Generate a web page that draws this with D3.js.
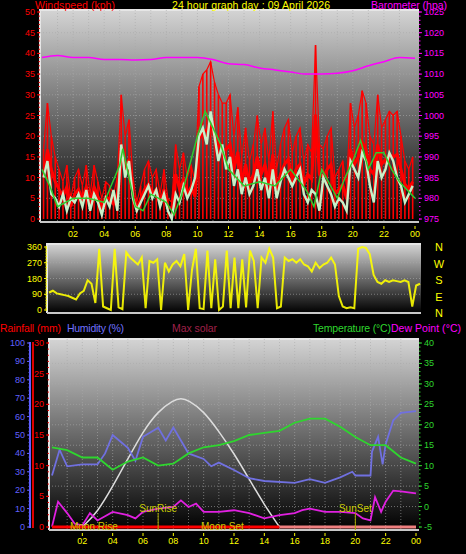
<!DOCTYPE html>
<html><head><meta charset="utf-8">
<script src="https://cdn.jsdelivr.net/npm/d3@7"></script>
<style>body{margin:0;background:#000}svg{display:block;font-family:"Liberation Sans",Arial,sans-serif}</style>
</head><body><svg id="c" width="466" height="554"></svg>
<script>
const hourTicks=["02","04","06","08","10","12","14","16","18","20","22","00"];
const gust=[17,28,20,15,12,9,13,5,10,12,8,13,6,13,9,5,9,8,6,10,30,20,24,10,4,8,12,14,10,12,6,12,5,4,18,12,16,10,13,9,32,35,36,38,33,30,28,28,30,20,27,15,22,14,18,25,18,22,14,26,12,18,22,24,16,20,22,14,18,16,42,18,17,20,22,10,12,14,8,28,22,25,31,28,20,18,30,22,24,26,25,26,20,14,12,15];
const speed=[10,14,6,5,3,6,2,5,4,6,3,7,2,6,4,1,5,3,7,2,18,10,14,5,2,4,6,8,5,7,3,6,2,0,6,4,8,5,7,10,20,22,18,26,20,14,18,12,15,8,12,6,10,6,8,12,7,10,5,12,5,9,12,10,8,10,12,6,4,7,6,2,10,8,6,3,5,4,2,14,12,10,16,14,8,4,14,10,12,16,14,10,8,4,6,8];
const avgHours=[0,0.5,1,2,3,4,5,5.2,6,6.5,7,8,8.5,9,10,10.5,11,11.5,12,13,14,15,16,17,17.5,18,19,19.5,20,20.5,21,21.5,22,22.5,23,24];
const avgWind=[12,8,3,5,5,4,13,17,3,2,6,4,1,6,20,26,22,18,12,8,9,8,12,7,3,12,5,10,14,19,12,16,16,12,9,5];
const baro=[1014,1014.5,1014,1014,1013.5,1013.5,1013.4,1013.5,1014,1014,1014,1013.5,1012.5,1012.3,1011.5,1011,1010.5,1010,1010,1010.2,1010.8,1012,1013,1014,1013.8];
const windDir=[100,110,95,90,85,80,70,60,95,110,170,150,40,350,20,10,0,350,15,5,330,300,280,260,300,10,280,270,290,0,270,220,260,280,250,320,0,230,350,10,5,340,10,290,0,20,340,10,300,10,290,15,340,280,10,300,270,350,300,10,20,300,280,290,270,290,260,250,220,270,240,260,270,300,260,80,20,10,15,10,350,360,355,320,200,160,150,170,160,170,165,160,170,160,20,140,150];
const temp=[14.5,13.8,12,12,9,11,12,10,10.5,13,14.5,15,16,17.5,18,18.5,20.5,21.5,21.5,19.5,17,15,15,12,10.5];
const dewHours=[0,0.4,1,1.5,2,2.5,3,4,5,5.5,6,7,8,8.5,9,9.5,10,11,12,13,14,15,16,16.5,17,18,19,20,20.5,21,21.3,21.7,22,22.5,23,24];
const dew=[-4.9,1.2,-1.6,-4.2,-4.6,-1.6,-3.4,-1.3,-2.1,-2.9,-1.3,-0.5,-0.1,1.5,-0.1,0.7,-1.3,-1.3,-0.9,-1.6,-2.9,-2.1,-1.6,-0.9,-0.5,-1.3,-1.3,-1.6,-2.9,-3.4,2.3,-1.3,1.2,3.9,3.7,3.2];
const humHours=[0,0.5,1,2,3,3.5,4,5,5.5,6,7,7.5,8,9,10,10.5,11,12,13,14,16,17,18,19,19.8,20,21,21.1,21.5,21.8,22,22.5,23,24];
const hum=[28,42,33,34,34,40,50,43,36,49,54,47,54,40,37,33,35,31,26.5,25,24,26,24,27,30,28,28,41,49,34,45,58,62,63];
const solarHours=[2,3,4,5,6,7,8,8.5,9,10,11,12,13,14,15];
const solar=[0,8,22,37,52,63,69,70,69,63,52,40,26,12,0];
const rainHours=[0,15,24];
const rain=[0,0,0];

const svg=d3.select("#c");
const defs=svg.append("defs");
const gr=defs.append("linearGradient").attr("id","bg").attr("x1",0).attr("x2",0).attr("y1",0).attr("y2",1);
gr.append("stop").attr("offset",0).attr("stop-color","#d4d4d4");
gr.append("stop").attr("offset",1).attr("stop-color","#000");

function panel(x0,x1,y0,y1){
  svg.append("rect").attr("x",x0).attr("y",y0).attr("width",x1-x0).attr("height",y1-y0).attr("fill","url(#bg)");
  svg.append("path").attr("d",`M${x0},${y1}V${y0}H${x1}`).attr("stroke","#e6e6e6").attr("stroke-width",2).attr("fill","none");
  svg.append("line").attr("x1",x0).attr("x2",x1).attr("y1",y1).attr("y2",y1).attr("stroke","#c8c8c8").attr("stroke-width",2);
}
function grid(xs,ys,x0,x1,y0,y1){
  const g=svg.append("g").attr("stroke","#aaa").attr("stroke-dasharray","1,2").attr("stroke-opacity",0.6);
  xs.forEach(x=>g.append("line").attr("x1",x).attr("x2",x).attr("y1",y0).attr("y2",y1));
  ys.forEach(y=>g.append("line").attr("x1",x0).attr("x2",x1).attr("y1",y).attr("y2",y));
}
function txt(x,y,s,c,size,anchor){return svg.append("text").attr("x",x).attr("y",y).attr("fill",c).attr("font-size",size||11).attr("text-anchor",anchor||"start").text(s);}
function yAxis(scale,ticks,x,color,side,minor){
  const g=svg.append("g").attr("font-size",9);
  ticks.forEach(v=>{const y=scale(v);
    g.append("text").attr("x",side<0?x-5:x+5).attr("y",y+3).attr("fill",color).attr("text-anchor",side<0?"end":"start").text(v);
    g.append("line").attr("x1",x).attr("x2",x+side*3).attr("y1",y).attr("y2",y).attr("stroke",color);});
  if(minor){const d=scale.domain();for(let i=0;i<=minor;i++){const v=d[0]+(d[1]-d[0])*i/minor;
    g.append("line").attr("x1",x).attr("x2",x+side*1.5).attr("y1",scale(v)).attr("y2",scale(v)).attr("stroke",color);}}
}
function xLabels(x,y){hourTicks.forEach((t,i)=>{const h=(i+1)*2;txt(x(h),y,t,"#ff0",9,"middle");
  svg.append("line").attr("x1",x(h)).attr("x2",x(h)).attr("y1",y-11).attr("y2",y-8).attr("stroke","#ff0");});}

const xT=d3.scaleLinear([0,24],[42,415]);
const yW=d3.scaleLinear([0,50],[219,12]);
const yB=d3.scaleLinear([975,1025],[219,12]);
panel(40,419,10,222);
grid(d3.range(1,24).map(xT),d3.range(5,50,5).map(yW),40,419,10,222);
const tq=i=>xT(i*0.25+0.1);
const gg=svg.append("g");
gust.forEach((v,i)=>{gg.append("line").attr("x1",tq(i)).attr("x2",tq(i)).attr("y1",yW(v)).attr("y2",yW(0)).attr("stroke","#f00").attr("stroke-width",1.6);});
svg.append("path").datum(gust).attr("d",d3.line().x((d,i)=>tq(i)).y(d=>yW(d*0.6))).attr("fill","none").attr("stroke","#f00").attr("stroke-width",3);
svg.append("path").datum(gust).attr("d",d3.line().x((d,i)=>tq(i)).y(d=>yW(d))).attr("fill","none").attr("stroke","#f00").attr("stroke-width",1.2);
svg.append("path").datum(speed).attr("d",d3.line().x((d,i)=>tq(i)).y(d=>yW(d))).attr("fill","none").attr("stroke","#c8f0c8").attr("stroke-width",2.4);
svg.append("path").datum(avgWind).attr("d",d3.line().x((d,i)=>xT(avgHours[i])).y(d=>yW(d))).attr("fill","none").attr("stroke","#2ecc2e").attr("stroke-width",1.5);
svg.append("path").datum(baro).attr("d",d3.line().x((d,i)=>xT(i)).y(d=>yB(d)).curve(d3.curveMonotoneX)).attr("fill","none").attr("stroke","#f0f").attr("stroke-width",1.5);
yAxis(yW,d3.range(0,51,5),40,"#f00",-1,50);
yAxis(yB,d3.range(975,1026,5),419,"#f0f",1,50);
xLabels(xT,237);
txt(35,9,"Windspeed (kph)","#f00",10.5).attr("textLength",80);
txt(172,9,"24 hour graph day : 09 April 2026","#ff0",10.5).attr("textLength",158);
txt(371,9,"Barometer (hpa)","#f0f",10.5).attr("textLength",76);

const xD=d3.scaleLinear([0,24],[49,420]);
const yD=d3.scaleLinear([0,360],[310,247]);
panel(47,421,244,313);
grid([],[90,180,270].map(yD),47,421,244,313);
svg.append("path").datum(windDir).attr("d",d3.line().x((d,i)=>xD(i*0.25)).y(d=>yD(d))).attr("fill","none").attr("stroke","#ff0").attr("stroke-width",2).attr("stroke-opacity",0.9);
yAxis(yD,[0,90,180,270,360],47,"#ff0",-1,40);
["N","W","S","E","N"].forEach((s,i)=>txt(439,251+i*16.5,s,"#ff0",11,"middle"));

const xB=d3.scaleLinear([0,24],[52,416]);
const yTm=d3.scaleLinear([-5,40],[527,343]);
const yH=d3.scaleLinear([0,100],[527,343]);
const yR=d3.scaleLinear([0,30],[527,343]);
panel(49,419,339,530);
grid(d3.range(1,24).map(xB),d3.range(0,40,5).map(yTm),49,419,339,530);
svg.append("path").datum(solar).attr("d",d3.line().x((d,i)=>xB(solarHours[i])).y(d=>yH(d)).curve(d3.curveBasis)).attr("fill","none").attr("stroke","#ddd").attr("stroke-width",1.5);
svg.append("path").datum(hum).attr("d",d3.line().x((d,i)=>xB(humHours[i])).y(d=>yH(d))).attr("fill","none").attr("stroke","#7070e0").attr("stroke-width",1.8);
svg.append("path").datum(temp).attr("d",d3.line().x((d,i)=>xB(i)).y(d=>yTm(d))).attr("fill","none").attr("stroke","#2ed62e").attr("stroke-width",1.8);
svg.append("path").datum(dew).attr("d",d3.line().x((d,i)=>xB(dewHours[i])).y(d=>yTm(d))).attr("fill","none").attr("stroke","#e020e0").attr("stroke-width",1.8);
svg.append("line").attr("x1",xB(rainHours[0])).attr("x2",xB(rainHours[1])).attr("y1",yR(rain[0])).attr("y2",yR(rain[1])).attr("stroke","#f00").attr("stroke-width",3);
svg.append("line").attr("x1",xB(rainHours[1])).attr("x2",xB(rainHours[2])).attr("y1",yR(rain[1])).attr("y2",yR(rain[2])).attr("stroke","#f08080").attr("stroke-width",3);
[[7,"SunRise"],[20,"SunSet"]].forEach(([h,s])=>{svg.append("line").attr("x1",xB(h)).attr("x2",xB(h)).attr("y1",513).attr("y2",530).attr("stroke","#aa0");txt(xB(h),512,s,"#cc0",10,"middle");});
txt(70,530,"Moon Rise","#cc0",10);
txt(201,530,"Moon Set","#cc0",10);
svg.append("line").attr("x1",30).attr("x2",30).attr("y1",342).attr("y2",528).attr("stroke","#6060ff").attr("stroke-width",2);
svg.append("line").attr("x1",33).attr("x2",33).attr("y1",342).attr("y2",528).attr("stroke","#d00").attr("stroke-width",2);
yAxis(yH,d3.range(0,101,10),30,"#6060ff",-1,50);
yAxis(yR,d3.range(0,31,5),49,"#f00",-1,30);
yAxis(yTm,d3.range(-5,41,5),419,"#2ed62e",1,45);
xLabels(xB,544);
txt(0,332,"Rainfall (mm)","#f00",10.5).attr("textLength",61);
txt(67,332,"Humidity (%)","#7070ff",10.5).attr("textLength",57);
txt(172,332,"Max solar","#a0204a",10.5).attr("textLength",45);
txt(313,332,"Temperature (°C)","#2ed62e",10.5).attr("textLength",78);
txt(391,332,"Dew Point (°C)","#f0f",10.5).attr("textLength",70);
</script></body></html>
